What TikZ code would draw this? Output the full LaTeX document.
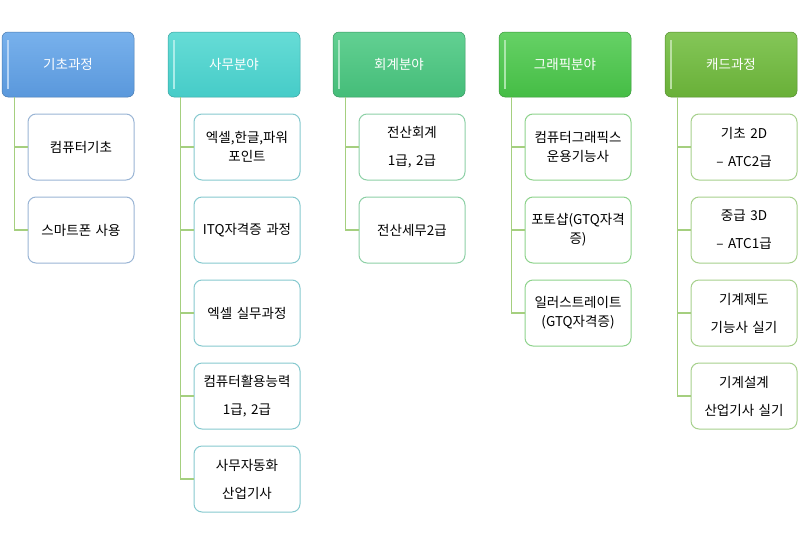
\documentclass[tikz,border=0pt]{standalone}
\usepackage{fontspec}
\setmainfont{Noto Sans CJK KR}
\definecolor{b1}{HTML}{5A98DC}\definecolor{l1}{HTML}{78B1EC}\definecolor{k1}{HTML}{9AB5D5}
\definecolor{b2}{HTML}{46CCC8}\definecolor{l2}{HTML}{66DCD6}\definecolor{k2}{HTML}{86C9CF}
\definecolor{b3}{HTML}{45BD79}\definecolor{l3}{HTML}{62D092}\definecolor{k3}{HTML}{8DD0A6}
\definecolor{b4}{HTML}{45BD45}\definecolor{l4}{HTML}{66D166}\definecolor{k4}{HTML}{8ED38C}
\definecolor{b5}{HTML}{69B038}\definecolor{l5}{HTML}{84C658}\definecolor{k5}{HTML}{A6D08C}
\definecolor{lnc}{HTML}{A5CF7F}
\tikzset{
  hdr/.style n args={2}{draw=#1!80!black, line width=0.5pt, rounded corners=6pt,
    top color=#2, bottom color=#1, minimum width=132pt, minimum height=65pt,
    inner sep=0pt, text=white, font=\fontsize{13.5}{16}\selectfont,
    path picture={\draw[#2!55!white, line width=1.4pt]
      ([xshift=6pt,yshift=-8pt]path picture bounding box.north west) --
      ([xshift=6pt,yshift=8pt]path picture bounding box.south west);}},
  kid/.style={draw=#1, line width=1pt, rounded corners=8pt, fill=white,
    minimum width=106pt, minimum height=66pt, inner sep=0pt, text width=105pt,
    align=center, text=black, font=\fontsize{13.5}{19}\selectfont},
  conn/.style={draw=lnc, line width=1.2pt}
}
\begin{document}
\begin{tikzpicture}[x=1pt,y=-1pt]
\useasboundingbox (0,0) rectangle (800,544);
% headers
\node[hdr={b1}{l1}] (h1) at (68,64.5) {기초과정};
\node[hdr={b2}{l2}] (h2) at (234,64.5) {사무분야};
\node[hdr={b3}{l3}] (h3) at (399,64.5) {회계분야};
\node[hdr={b4}{l4}] (h4) at (565,64.5) {그래픽분야};
\node[hdr={b5}{l5}] (h5) at (731,64.5) {캐드과정};
% column 1
\node[kid=k1] (c11) at (81,147) {컴퓨터기초};
\node[kid=k1] (c12) at (81,230) {스마트폰 사용};
% column 2
\node[kid=k2] (c21) at (247,147) {엑셀,한글,파워\\포인트};
\node[kid=k2] (c22) at (247,230) {ITQ자격증 과정};
\node[kid=k2] (c23) at (247,313) {엑셀 실무과정};
\node[kid=k2] (c24) at (247,396) {컴퓨터활용능력\\[9pt]1급, 2급};
\node[kid=k2] (c25) at (247,479) {사무자동화\\[9pt]산업기사};
% column 3
\node[kid=k3] (c31) at (412,147) {전산회계\\[9pt]1급, 2급};
\node[kid=k3] (c32) at (412,230) {전산세무2급};
% column 4
\node[kid=k4] (c41) at (578,147) {컴퓨터그래픽스\\운용기능사};
\node[kid=k4] (c42) at (578,230) {포토샵(GTQ자격\\증)};
\node[kid=k4] (c43) at (578,313) {일러스트레이트\\(GTQ자격증)};
% column 5
\node[kid=k5] (c51) at (744,147) {기초 2D\\[9pt]– ATC2급};
\node[kid=k5] (c52) at (744,230) {중급 3D\\[9pt]– ATC1급};
\node[kid=k5] (c53) at (744,313) {기계제도\\[9pt]기능사 실기};
\node[kid=k5] (c54) at (744,396) {기계설계\\[9pt]산업기사 실기};
% connectors
\foreach \h/\list in {h1/{c11,c12}, h2/{c21,c22,c23,c24,c25}, h3/{c31,c32}, h4/{c41,c42,c43}, h5/{c51,c52,c53,c54}}{
  \foreach \c in \list {
    \draw[conn] ([xshift=13pt]\h.south west) |- (\c.west);
  }
}
\end{tikzpicture}
\end{document}
